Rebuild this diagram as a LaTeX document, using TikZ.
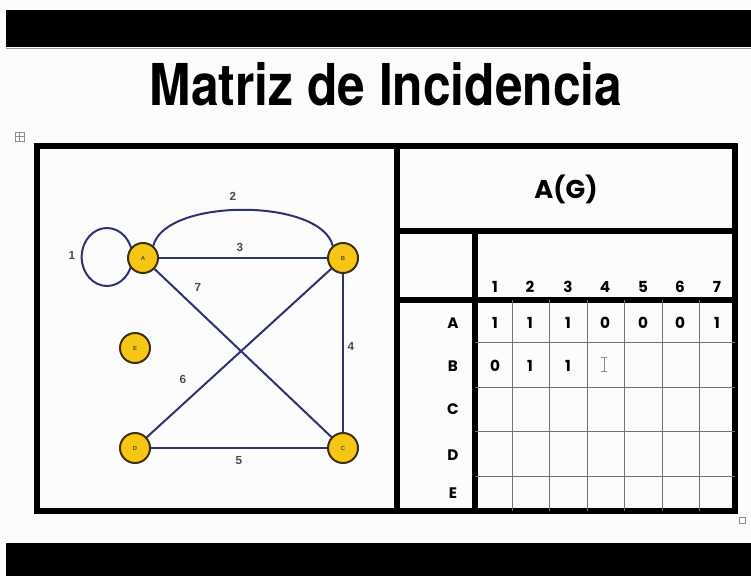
\documentclass[tikz,border=0pt]{standalone}
\usepackage{fontspec}
\usepackage{graphicx}
\setmainfont{Liberation Sans}
\newfontfamily\gothic{Poppins}
\newfontfamily\heros{TeX Gyre Heros}
\usetikzlibrary{backgrounds}
\definecolor{navy}{HTML}{2E3272}
\definecolor{gold}{HTML}{F5C616}
\definecolor{rim}{HTML}{3D3010}
\definecolor{paper}{HTML}{FCFCFC}

\begin{document}
\begin{tikzpicture}[x=0.03cm, y=-0.03cm,
  vert/.style={circle,draw=rim,line width=1.7pt,fill=gold,minimum size=0.9cm,inner sep=0pt,
    font=\fontsize{5}{5}\selectfont\bfseries,text=rim!80!gold},
  link/.style={draw=navy,line width=1.7pt},
  elabel/.style={font=\fontsize{10}{10}\selectfont\bfseries,text=black!70},
  frame/.style={line width=5pt,line cap=rect},
  grid/.style={line width=0.6pt,black!55},
  cell/.style={font=\gothic\fontsize{13}{13}\selectfont\bfseries}]
\useasboundingbox (0,0) rectangle (751,576);

% bars and title
\fill (6,10) rectangle (751,47);
\fill (6,543) rectangle (751,576);
\draw[black!40,line width=0.6pt] (6,48) -- (751,48);
\node (title) at (386,84) {\resizebox{14.16cm}{1.29cm}{\heros\bfseries Matriz de Incidencia}};

% frame of the table
\draw[frame] (37,146) rectangle (735,511);
\draw[frame] (397,146) -- (397,511);
\draw[frame] (397,231) -- (735,231);
\draw[frame] (475,231) -- (475,511);
\draw[frame] (397,300) -- (735,300);
\foreach \x in {512,549,587,624,662,699} \draw[grid] (\x,300) -- (\x,511);
\foreach \y in {342,387,431,476} \draw[grid] (475,\y) -- (735,\y);

% handles
\draw[black!45,line width=0.5pt] (15,132) rectangle (24,141) (19.5,132) -- (19.5,141) (15,136.5) -- (24,136.5);
\draw[black!45,line width=0.5pt] (739,517) rectangle (745,523);

% graph
\node[vert] (A) at (143,258) {A};
\node[vert] (B) at (343,258) {B};
\node[vert] (C) at (343,448) {C};
\node[vert] (D) at (135,448) {D};
\node[vert] (E) at (135,348) {E};

\begin{scope}[on background layer]
  \fill[paper] (0,0) rectangle (751,576);
  \draw[link] ([xshift=-1.08cm,yshift=0.03cm]A.center) ellipse (0.76cm and 0.87cm);
  \draw[link] (A.50) .. controls +(12,-48) and +(-12,-48) .. (B.130);
  \draw[link] (A) -- (B);
  \draw[link] (B) -- (C);
  \draw[link] (D) -- (C);
  \draw[link] (D) -- (B);
  \draw[link] (A) -- (C);
\end{scope}

\node[elabel] (l1) at (72,255) {1};
\node[elabel] (l2) at (233,196) {2};
\node[elabel] (l3) at (240,247) {3};
\node[elabel] (l4) at (351,346) {4};
\node[elabel] (l5) at (239,461) {5};
\node[elabel] (l6) at (183,379) {6};
\node[elabel] (l7) at (198,287) {7};

% matrix
\node[font=\gothic\fontsize{22}{22}\selectfont\bfseries] (AG) at (566,189) {A(G)};
\foreach \c [count=\i] in {495,530,568,605,643,680,717}
  \node[cell] (h\i) at (\c,287) {\i};
\foreach \r/\y in {A/323,B/366,C/409,D/455,E/493}
  \node[cell] (r\r) at (453,\y) {\r};
\foreach \v [count=\i] in {1,1,1,0,0,0,1}
  \pgfmathsetmacro{\cx}{{495,530,568,605,643,680,717}[\i-1]}
  \node[cell] (a\i) at (\cx,323) {\v};
\foreach \v [count=\i] in {0,1,1}
  \pgfmathsetmacro{\cx}{{495,530,568,605,643,680,717}[\i-1]}
  \node[cell] (b\i) at (\cx,366) {\v};
\draw[black!45,line width=0.5pt] (604,357) -- (604,371) (601,357) -- (607,357) (601,371) -- (607,371);
\end{tikzpicture}
\end{document}
